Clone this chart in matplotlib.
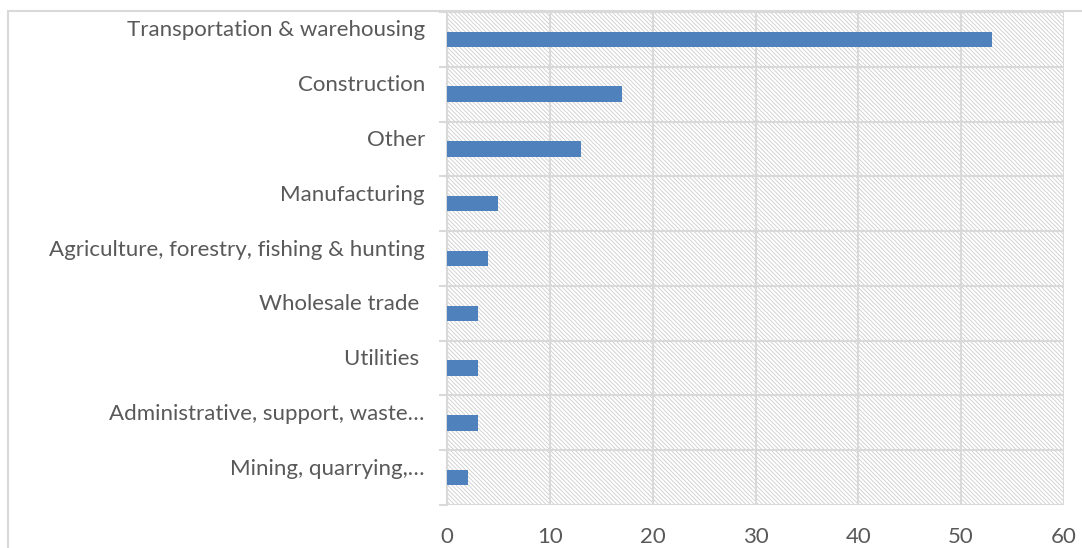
import numpy as np
import matplotlib
matplotlib.use("Agg")
import matplotlib.pyplot as plt
from matplotlib.patches import Rectangle
from matplotlib.transforms import ScaledTranslation

# industries, top to bottom
industries = [
    "Transportation & warehousing",
    "Construction",
    "Other",
    "Manufacturing",
    "Agriculture, forestry, fishing & hunting",
    "Wholesale trade ",
    "Utilities ",
    "Administrative, support, waste\u2026",
    "Mining, quarrying,\u2026",
]
counts = [53, 17, 13, 5, 4, 3, 3, 3, 2]
xticks = [0, 10, 20, 30, 40, 50, 60]

plt.rcParams["font.family"] = ["Lato", "DejaVu Sans"]
plt.rcParams["hatch.color"] = "#cccccc"
plt.rcParams["hatch.linewidth"] = 0.6

grid_c = "#d9d9d9"
text_c = "#595959"
bar_c = "#4f81bd"

fig = plt.figure(figsize=(10.82, 5.48), dpi=100)
W, H = 1082, 548

# chart area border (only top/left edges fall inside the image)
fig.patches.append(Rectangle((8 / W, -0.1), 1.2, 1.1 - 11 / H,
                             transform=fig.transFigure, fill=False,
                             edgecolor=grid_c, linewidth=1.5))

ax = fig.add_axes([447 / W, 43 / H, (1064 - 447) / W, (505 - 12) / H])

n = len(industries)
ypos = np.arange(n)[::-1]

# hatched plot background
ax.add_patch(Rectangle((0, 0), 1, 1, transform=ax.transAxes, facecolor="white",
                       edgecolor="#cccccc", hatch="\\" * 8, linewidth=0, zorder=0))

ax.barh(ypos, counts, height=0.28, color=bar_c, zorder=3)

ax.set_xlim(0, 60)
ax.set_ylim(-0.5, n - 0.5)

ax.set_xticks(xticks)
ax.set_xticklabels([str(v) for v in xticks])
ax.tick_params(axis="x", length=0, pad=16, labelsize=16, labelcolor=text_c)

ax.set_yticks(ypos)
ax.set_yticklabels(industries)
ax.tick_params(axis="y", which="major", length=0, pad=16, labelsize=16, labelcolor=text_c)
ax.set_yticks(np.arange(n + 1) - 0.5, minor=True)
ax.tick_params(axis="y", which="minor", length=6, width=1.5, color=grid_c)

for lab in ax.get_yticklabels():
    lab.set_transform(lab.get_transform() + ScaledTranslation(0, 0.11, fig.dpi_scale_trans))

ax.grid(axis="x", which="major", color=grid_c, linewidth=1.5, zorder=1)
ax.grid(axis="y", which="minor", color=grid_c, linewidth=1.5, zorder=1)
ax.set_axisbelow(True)

for side in ["top", "right", "bottom"]:
    ax.spines[side].set_visible(False)
ax.spines["left"].set_color(grid_c)
ax.spines["left"].set_linewidth(1.5)

fig.savefig("out.png", dpi=100)
